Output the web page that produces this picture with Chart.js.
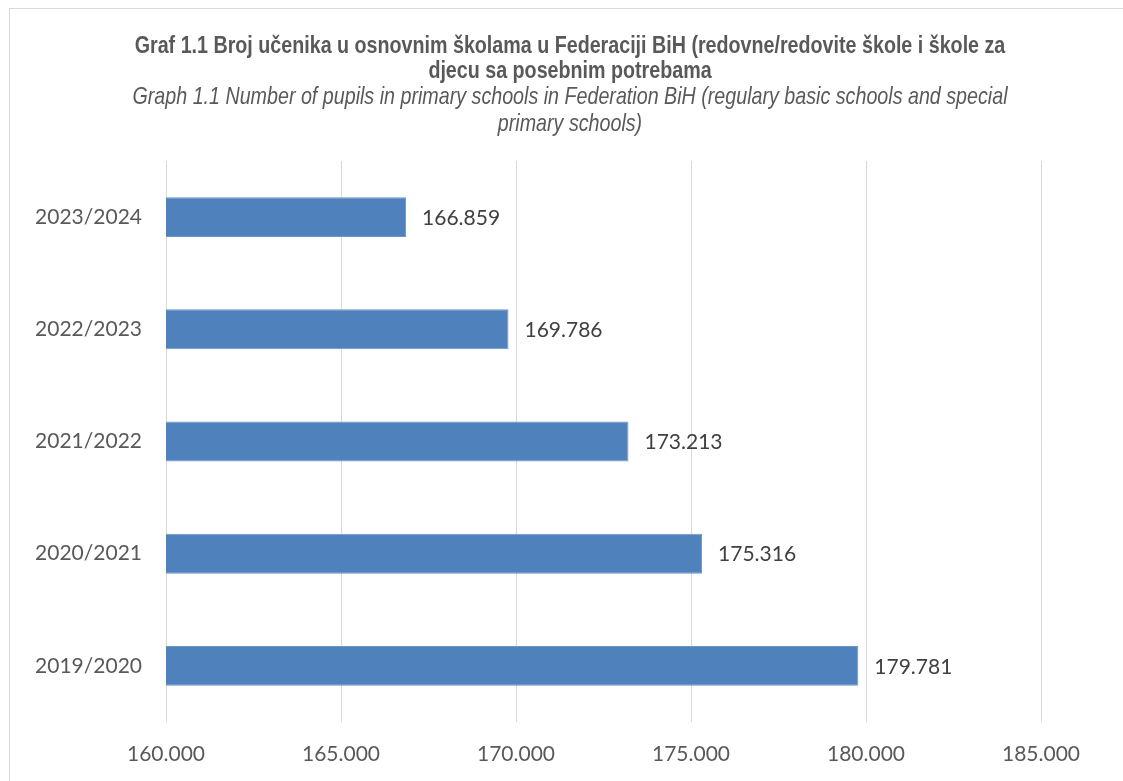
<!DOCTYPE html>
<html>
<head>
<meta charset="utf-8">
<script src="https://cdn.jsdelivr.net/npm/chart.js@4.4.1/dist/chart.umd.min.js"></script>
<style>
    html, body { margin: 0; padding: 0; background: #fff; }
    body { width: 1123px; height: 781px; position: relative; overflow: hidden; }
    .frame {
        position: absolute;
        left: 9px;
        top: 8px;
        width: 1200px;
        height: 900px;
        border-left: 1px solid #d9d9d9;
        border-top: 1px solid #d9d9d9;
    }
    #chart { position: absolute; left: 0; top: 0; }
</style>
</head>
<body>
<div class="frame"></div>
<canvas id="chart" width="1123" height="781"></canvas>
<script>
// Chart data
const years = ['2023/2024', '2022/2023', '2021/2022', '2020/2021', '2019/2020'];
const pupils = [166859, 169786, 173213, 175316, 179781];
const xTicks = [160000, 165000, 170000, 175000, 180000, 185000];

const titleLines = [
    'Graf 1.1 Broj učenika u osnovnim školama u Federaciji BiH (redovne/redovite škole i škole za',
    'djecu sa posebnim potrebama'
];
const subtitleLines = [
    'Graph 1.1 Number of pupils in primary schools in Federation BiH (regulary basic schools and special',
    'primary schools)'
];

// thousands with a dot, like 160.000
function formatNumber(v) {
    return String(Math.round(v)).replace(/\B(?=(\d{3})+(?!\d))/g, '.');
}

// Title in a narrow face: no Arial Narrow here, so squeeze Liberation Sans
const narrowTitles = {
    id: 'narrowTitles',
    afterDraw(chart) {
        const ctx = chart.ctx;
        const cx = 570;
        const drawLines = (lines, font, baselines) => {
            lines.forEach((line, i) => {
                ctx.save();
                ctx.translate(cx, baselines[i]);
                ctx.scale(0.82, 1);
                ctx.font = font;
                ctx.fillStyle = '#595959';
                ctx.textAlign = 'center';
                ctx.textBaseline = 'alphabetic';
                ctx.fillText(line, 0, 0);
                ctx.restore();
            });
        };
        drawLines(titleLines, 'bold 24px "Liberation Sans", Arial, sans-serif', [53, 78]);
        drawLines(subtitleLines, 'italic 24px "Liberation Sans", Arial, sans-serif', [104, 131]);
    }
};

// value labels at the end of each bar
const valueLabels = {
    id: 'valueLabels',
    afterDatasetsDraw(chart) {
        const ctx = chart.ctx;
        const meta = chart.getDatasetMeta(0);
        ctx.save();
        ctx.font = '21px Lato, "Open Sans", sans-serif';
        ctx.fillStyle = '#404040';
        ctx.textAlign = 'left';
        ctx.textBaseline = 'middle';
        meta.data.forEach((bar, i) => {
            ctx.fillText(formatNumber(pupils[i]), bar.x + 16, bar.y + 1);
        });
        ctx.restore();
    }
};

new Chart(document.getElementById('chart'), {
    type: 'bar',
    data: {
        labels: years,
        datasets: [{
            data: pupils,
            backgroundColor: '#4f81bd',
            borderColor: '#6d96c8',
            borderWidth: 1,
            borderSkipped: false,
            barPercentage: 1,
            categoryPercentage: 0.356
        }]
    },
    options: {
        indexAxis: 'y',
        responsive: false,
        animation: false,
        devicePixelRatio: 1,
        layout: {
            padding: { left: 0, right: 82, top: 161, bottom: 0 }
        },
        plugins: {
            legend: { display: false },
            tooltip: { enabled: false },
            title: { display: false },
            subtitle: { display: false }
        },
        scales: {
            x: {
                min: 160000,
                max: 185000,
                afterBuildTicks(scale) {
                    scale.ticks = xTicks.map(v => ({ value: v }));
                },
                afterFit(scale) {
                    scale.height = 59;
                },
                grid: {
                    color: '#d9d9d9',
                    lineWidth: 1,
                    drawTicks: false,
                    tickLength: 0
                },
                border: { display: false },
                ticks: {
                    padding: 20,
                    color: '#595959',
                    font: { family: 'Lato, "Open Sans", sans-serif', size: 21 },
                    maxRotation: 0,
                    callback: v => formatNumber(v)
                }
            },
            y: {
                afterFit(scale) {
                    scale.width = 166;
                },
                grid: { display: false, drawTicks: false, tickLength: 0 },
                border: { display: false },
                ticks: {
                    padding: 24,
                    color: '#595959',
                    font: { family: 'Lato, "Open Sans", sans-serif', size: 21 }
                }
            }
        }
    },
    plugins: [valueLabels, narrowTitles]
});
</script>
</body>
</html>
